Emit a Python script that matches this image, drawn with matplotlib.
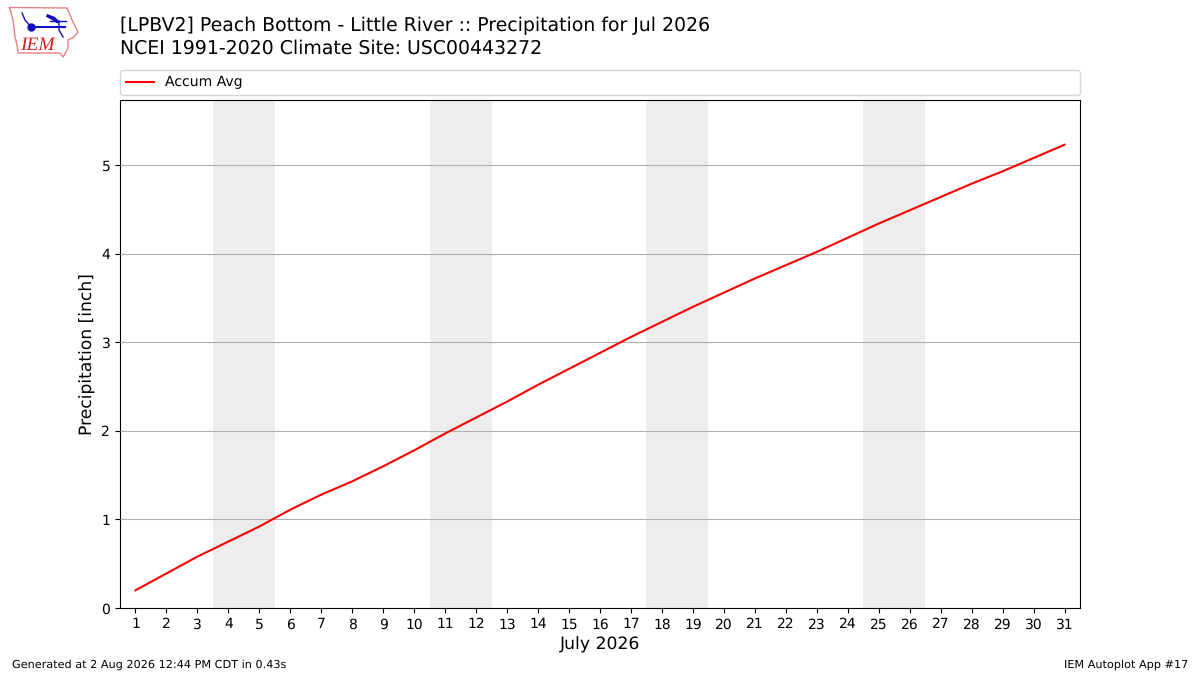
import matplotlib
matplotlib.use("Agg")
import matplotlib.pyplot as plt

# the reference text has wider glyphs than the default hinting gives
plt.rcParams["text.hinting"] = "no_hinting"

# daily accumulated normal precip
days = list(range(1, 32))
accum_avg = [0.20, 0.39, 0.58, 0.75, 0.92, 1.11, 1.28, 1.43, 1.60, 1.78,
             1.97, 2.15, 2.33, 2.52, 2.70, 2.88, 3.06, 3.23, 3.40, 3.56,
             3.72, 3.87, 4.02, 4.18, 4.34, 4.49, 4.64, 4.79, 4.93, 5.08, 5.23]
weekend_starts = [4, 11, 18, 25]
yticks = [0, 1, 2, 3, 4, 5]

title = "[LPBV2] Peach Bottom - Little River :: Precipitation for Jul 2026\nNCEI 1991-2020 Climate Site: USC00443272"
footer_left = "Generated at 2 Aug 2026 12:44 PM CDT in 0.43s"
footer_right = "IEM Autoplot App #17"

W, H = 1200, 675
fig = plt.figure(figsize=(12, 6.75), dpi=100)

# main axes
ax = fig.add_axes([120 / W, 1 - 608 / H, 960 / W, 508 / H])
for start in weekend_starts:
    ax.axvspan(start - 0.5, start + 1.5, color="#ededed", lw=0, zorder=1)
ax.plot(days, accum_avg, color="red", lw=1.5, label="Accum Avg", zorder=3)
ax.set_xlim(0.5, 31.5)
ax.set_ylim(0, 5.735)
ax.set_xticks(days)
ax.set_yticks(yticks)
ax.tick_params(labelsize=10)
ax.yaxis.grid(True, color="#b0b0b0", lw=0.8, zorder=2)
ax.set_axisbelow(False)
ax.tick_params(axis="both", zorder=4)
ax.set_xlabel("July 2026", fontsize=12.4)
ax.set_ylabel("Precipitation [inch]", fontsize=12.3)
ax.legend(loc="lower left", bbox_to_anchor=(0, 1 + 5 / 508, 1, 0.1), mode="expand",
          ncol=1, fontsize=10.1, borderaxespad=0)

fig.text(120 / W, 1 - 58 / H, title, fontsize=13.55, ha="left", va="bottom", linespacing=1.29)
fig.text(12 / W, 1 - 665 / H, footer_left, fontsize=8.15, ha="left", va="center")
fig.text(1188 / W, 1 - 665 / H, footer_right, fontsize=8.1, ha="right", va="center")

# logo, in pixel coords
logo = fig.add_axes([0, 0, 1, 1], zorder=-1)
logo.set_xlim(0, W)
logo.set_ylim(H, 0)
logo.axis("off")
outline_x = [9.5, 67, 70, 73, 78, 74, 68, 68, 66, 63, 60, 18, 17, 15, 13, 9.5]
outline_y = [7.5, 8, 15, 22, 32, 37, 40, 48, 52, 57, 53, 53, 45, 37, 20, 7.5]
logo.plot(outline_x, outline_y, color="#e88080", lw=1)
logo.plot([31, 65], [27, 27], color="#1010c0", lw=1.5)
logo.plot([31], [27], "o", color="#1010c0", ms=5)
logo.plot([22, 25, 31], [13, 20, 27], color="#1010c0", lw=1)
logo.plot([48, 54, 58, 48], [16, 18, 22, 16], color="#1010c0", lw=2)
logo.plot([50, 66], [21, 21], color="#1010c0", lw=1)
logo.plot([59, 59, 63], [21, 30, 37], color="#1010c0", lw=1)
logo.text(37, 45, "IEM", color="#d02020", fontsize=14, style="italic",
          family="Liberation Serif", ha="center", va="center")

fig.savefig("out.png", dpi=100)
